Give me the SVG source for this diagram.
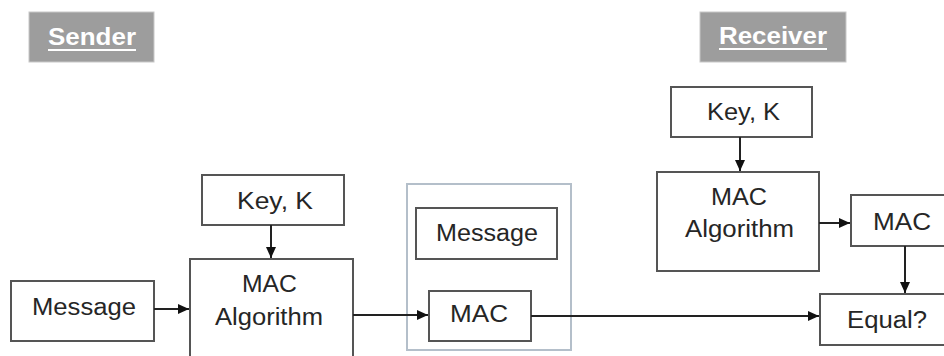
<svg xmlns="http://www.w3.org/2000/svg" width="944" height="356" viewBox="0 0 944 356">
<style>
.box{fill:#fff;stroke:#555;stroke-width:2}
.hdr{fill:#9d9d9d;stroke:#c8c8c8;stroke-width:1}
.cont{fill:#fff;stroke:#b4bfca;stroke-width:2}
.t{font-family:"Liberation Sans",Arial,sans-serif;font-size:23px;fill:#262626;text-anchor:middle}
.h{font-family:"Liberation Sans",Arial,sans-serif;font-size:24px;font-weight:bold;fill:#fff;text-anchor:middle}
.ul{stroke:#fff;stroke-width:2}
.c{fill:none;stroke:#222;stroke-width:2}
</style>
<defs>
<marker id="ah" markerUnits="userSpaceOnUse" markerWidth="11" markerHeight="10" refX="11" refY="5" orient="auto">
<path d="M0,0 L11,5 L0,10 z" fill="#111"/>
</marker>
</defs>
<rect width="944" height="356" fill="#fff"/>
<g id="sender-label">
<rect class="hdr" x="29" y="12" width="125" height="50"/>
<text class="h" x="92" y="45" textLength="88" lengthAdjust="spacingAndGlyphs">Sender</text>
<line class="ul" x1="48" y1="50" x2="136" y2="50"/>
</g>
<g id="receiver-label">
<rect class="hdr" x="700" y="12" width="146" height="50"/>
<text class="h" x="773" y="44" textLength="108" lengthAdjust="spacingAndGlyphs">Receiver</text>
<line class="ul" x1="719" y1="49" x2="827" y2="49"/>
</g>
<g id="transmitted">
<rect class="cont" x="407" y="184" width="164" height="166"/>
</g>
<g id="sender-message">
<rect class="box" x="11" y="281" width="143" height="60"/>
<text class="t" x="84" y="315" textLength="104" lengthAdjust="spacingAndGlyphs">Message</text>
</g>
<g id="sender-key">
<rect class="box" x="202" y="175" width="142" height="50"/>
<text class="t" x="275" y="209" textLength="76" lengthAdjust="spacingAndGlyphs">Key, K</text>
</g>
<g id="sender-mac-alg">
<rect class="box" x="190" y="259" width="163" height="112"/>
<text class="t" x="269.5" y="292" textLength="55" lengthAdjust="spacingAndGlyphs">MAC</text>
<text class="t" x="269" y="325" textLength="108" lengthAdjust="spacingAndGlyphs">Algorithm</text>
</g>
<g id="sent-message">
<rect class="box" x="416" y="208" width="141" height="51"/>
<text class="t" x="487" y="241" textLength="102" lengthAdjust="spacingAndGlyphs">Message</text>
</g>
<g id="sent-mac">
<rect class="box" x="429" y="291" width="102" height="50"/>
<text class="t" x="479" y="322" textLength="58" lengthAdjust="spacingAndGlyphs">MAC</text>
</g>
<g id="receiver-key">
<rect class="box" x="671" y="87" width="141" height="50"/>
<text class="t" x="743.5" y="120" textLength="73" lengthAdjust="spacingAndGlyphs">Key, K</text>
</g>
<g id="receiver-mac-alg">
<rect class="box" x="657" y="172" width="162" height="99"/>
<text class="t" x="739" y="205" textLength="56" lengthAdjust="spacingAndGlyphs">MAC</text>
<text class="t" x="739.5" y="237" textLength="109" lengthAdjust="spacingAndGlyphs">Algorithm</text>
</g>
<g id="receiver-mac">
<rect class="box" x="851" y="195" width="100" height="51"/>
<text class="t" x="902" y="230" textLength="58" lengthAdjust="spacingAndGlyphs">MAC</text>
</g>
<g id="equal">
<rect class="box" x="820" y="294" width="130" height="51"/>
<text class="t" x="887" y="328" textLength="80" lengthAdjust="spacingAndGlyphs">Equal?</text>
</g>
<g id="connectors">
<line class="c" x1="154" y1="309" x2="189" y2="309" marker-end="url(#ah)"/>
<line class="c" x1="271" y1="225" x2="271" y2="258" marker-end="url(#ah)"/>
<line class="c" x1="353" y1="315" x2="428" y2="315" marker-end="url(#ah)"/>
<line class="c" x1="531" y1="316" x2="819" y2="316" marker-end="url(#ah)"/>
<line class="c" x1="740" y1="137" x2="740" y2="171" marker-end="url(#ah)"/>
<line class="c" x1="819" y1="223" x2="850" y2="223" marker-end="url(#ah)"/>
<line class="c" x1="905" y1="246" x2="905" y2="293" marker-end="url(#ah)"/>
</g>
</svg>
